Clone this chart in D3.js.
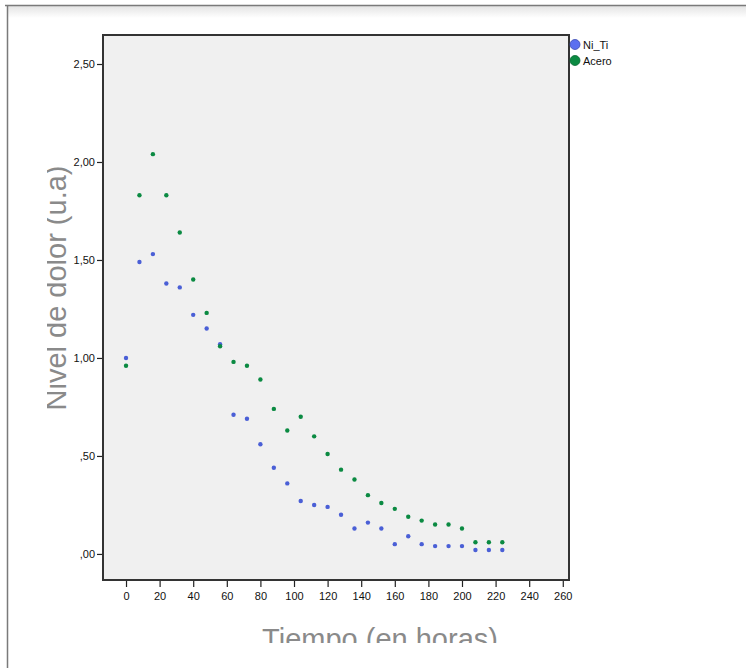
<!DOCTYPE html>
<html>
<head>
<meta charset="utf-8">
<script src="https://cdn.jsdelivr.net/npm/d3@7"></script>
<style>
  html, body { margin: 0; padding: 0; background: #fff; }
  svg { display: block; }
</style>
</head>
<body>
<svg id="chart" width="746" height="668"></svg>
<script>
// ---- data ----
const times = [0, 8, 16, 24, 32, 40, 48, 56, 64, 72, 80, 88, 96, 104, 112, 120, 128, 136, 144, 152, 160, 168, 176, 184, 192, 200, 208, 216, 224];
const niTi  = [1.00, 1.49, 1.53, 1.38, 1.36, 1.22, 1.15, 1.07, 0.71, 0.69, 0.56, 0.44, 0.36, 0.27, 0.25, 0.24, 0.20, 0.13, 0.16, 0.13, 0.05, 0.09, 0.05, 0.04, 0.04, 0.04, 0.02, 0.02, 0.02];
const acero = [0.96, 1.83, 2.04, 1.83, 1.64, 1.40, 1.23, 1.06, 0.98, 0.96, 0.89, 0.74, 0.63, 0.70, 0.60, 0.51, 0.43, 0.38, 0.30, 0.26, 0.23, 0.19, 0.17, 0.15, 0.15, 0.13, 0.06, 0.06, 0.06];
const seriesNames = ["Ni_Ti", "Acero"];
const seriesColors = ["#4a5fd6", "#0b8a42"];
const legendColors = ["#5b70f0", "#0b8a42"];
const xTicks = [0, 20, 40, 60, 80, 100, 120, 140, 160, 180, 200, 220, 240, 260];
const yTicks = [0, 0.5, 1.0, 1.5, 2.0, 2.5];
const xTitle = "Tiempo (en horas)";
const yTitle = "Nivel de dolor (u.a)";

const FONT = "'Liberation Sans', Arial, sans-serif";
const svg = d3.select("#chart");

// page frame
const defs = svg.append("defs");
const grad = defs.append("linearGradient").attr("id", "shadow").attr("x1", 0).attr("y1", 0).attr("x2", 0).attr("y2", 1);
grad.append("stop").attr("offset", "0%").attr("stop-color", "#e4e4e4");
grad.append("stop").attr("offset", "100%").attr("stop-color", "#ffffff");
svg.append("rect").attr("x", 7).attr("y", 6).attr("width", 739).attr("height", 12).attr("fill", "url(#shadow)");
svg.append("line").attr("x1", 5).attr("x2", 746).attr("y1", 5.5).attr("y2", 5.5).attr("stroke", "#7a7a7a").attr("stroke-width", 1.5);
svg.append("line").attr("x1", 7.5).attr("x2", 7.5).attr("y1", 5).attr("y2", 668).attr("stroke", "#7a7a7a").attr("stroke-width", 1.5);

// clip for titles
defs.append("clipPath").attr("id", "clipY").append("rect").attr("x", 47).attr("y", 0).attr("width", 200).attr("height", 668);
defs.append("clipPath").attr("id", "clipX").append("rect").attr("x", 0).attr("y", 600).attr("width", 746).attr("height", 43);

const pL = 103, pR = 569, pT = 35, pB = 580;
const x = d3.scaleLinear().domain([-13.7, 263.7]).range([pL, pR]);
const y = d3.scaleLinear().domain([-0.133, 2.648]).range([pB, pT]);

// plot background
svg.append("rect").attr("x", pL).attr("y", pT).attr("width", pR - pL).attr("height", pB - pT)
  .attr("fill", "#f0f0f0");

// axes
const fmtY = v => d3.format(".2f")(v).replace(".", ",").replace(/^0/, "");
const yAxis = svg.append("g").attr("transform", `translate(${pL},0)`)
  .call(d3.axisLeft(y).tickValues(yTicks).tickFormat(fmtY).tickSize(6).tickPadding(2));
const xAxis = svg.append("g").attr("transform", `translate(0,${pB})`)
  .call(d3.axisBottom(x).tickValues(xTicks).tickFormat(d3.format("d")).tickSize(7).tickPadding(5));
[yAxis, xAxis].forEach(g => {
  g.select(".domain").remove();
  g.selectAll("line").attr("stroke", "#222").attr("stroke-width", 1.2);
  g.selectAll("text").attr("fill", "#111").style("font-family", FONT).style("font-size", "11px");
});

// frame
svg.append("rect").attr("x", pL).attr("y", pT).attr("width", pR - pL).attr("height", pB - pT)
  .attr("fill", "none").attr("stroke", "#333").attr("stroke-width", 2);

// points
const series = [niTi, acero];
series.forEach((vals, si) => {
  svg.append("g").selectAll("circle").data(times.map((t, i) => ({ t, v: vals[i] })))
    .join("circle")
    .attr("cx", d => x(d.t)).attr("cy", d => y(d.v)).attr("r", 2.2)
    .attr("fill", seriesColors[si]);
});

// legend
const lg = svg.append("g");
seriesNames.forEach((n, i) => {
  lg.append("circle").attr("cx", 575).attr("cy", 44.5 + i * 16).attr("r", 5)
    .attr("fill", legendColors[i]).attr("stroke", i === 0 ? "#3a4ab0" : "#086a32").attr("stroke-width", 0.8);
  lg.append("text").attr("x", 583).attr("y", 48.5 + i * 16).text(n)
    .style("font-family", FONT).style("font-size", "11px").attr("fill", "#111");
});

// titles
svg.append("g").attr("clip-path", "url(#clipY)")
  .append("text").attr("transform", "translate(66,288) rotate(-90)")
  .attr("text-anchor", "middle").text(yTitle)
  .style("font-family", FONT).style("font-size", "29px").attr("fill", "#8a8a8a");
svg.append("g").attr("clip-path", "url(#clipX)")
  .append("text").attr("x", 380).attr("y", 649)
  .attr("text-anchor", "middle").text(xTitle)
  .style("font-family", FONT).style("font-size", "29px").attr("fill", "#8a8a8a");
</script>
</body>
</html>
